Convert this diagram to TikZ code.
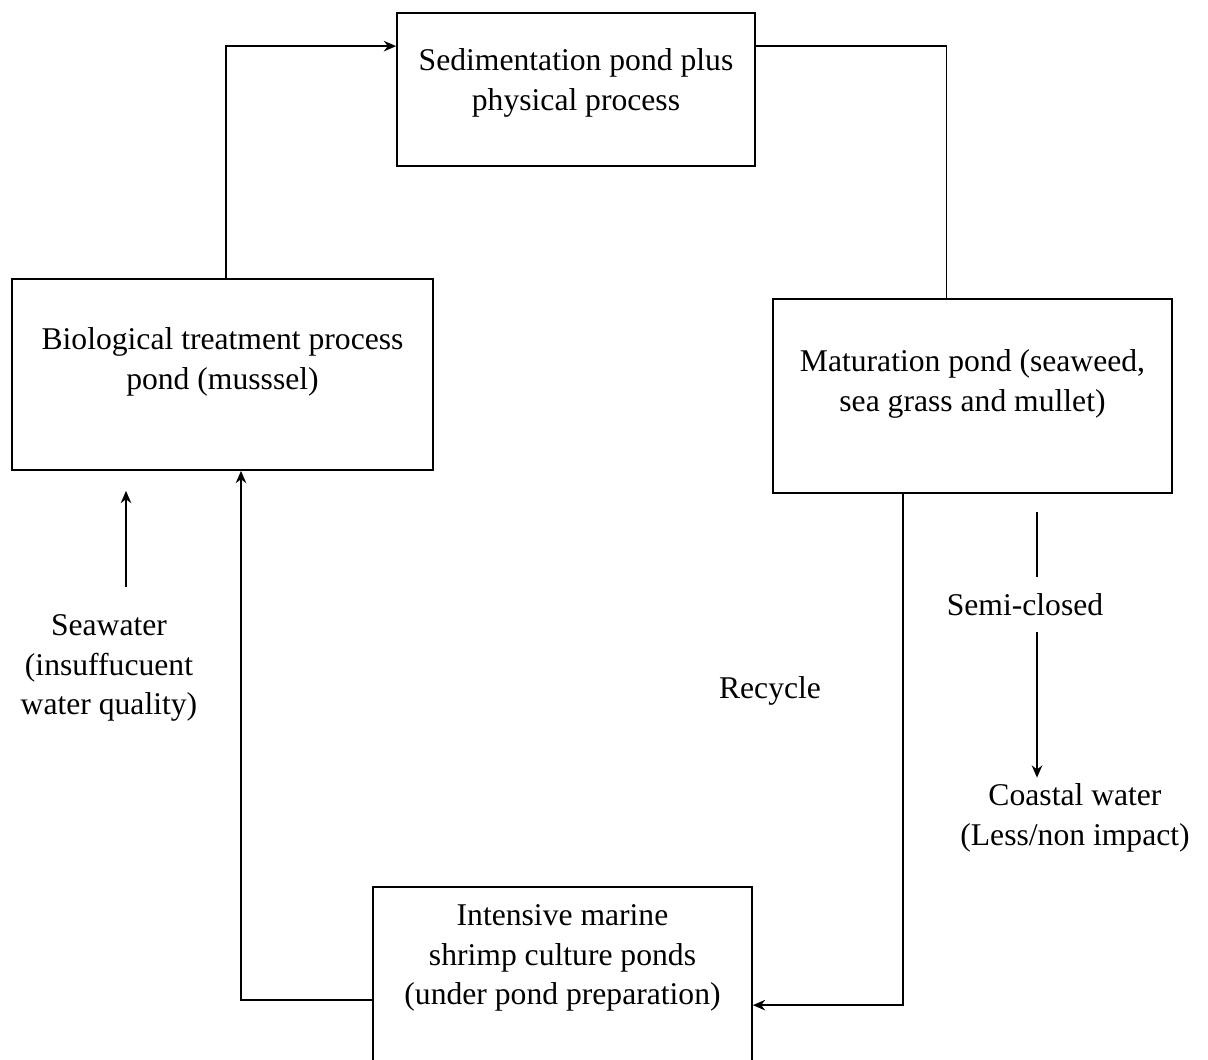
\documentclass[tikz,border=0pt]{standalone}
\usepackage{fontspec}
\setmainfont{Liberation Serif}
\usetikzlibrary{positioning,arrows.meta}

\tikzset{
  pond/.style={draw, line width=1pt, inner sep=0pt},
  words/.style={align=center, font=\fontsize{18}{22.5}\selectfont},
  flow/.style={line width=1pt}
}

\begin{document}
\begin{tikzpicture}[>={Stealth[length=7pt,width=6pt]}]
    \clip (0,0) rectangle (24.16,-21.18);

    % the four ponds
    \node[pond, minimum width=7.16cm, minimum height=3.06cm] (sed) at (11.52,-1.79) {};
    \node[pond, minimum width=8.42cm, minimum height=3.82cm] (bio) at (4.45,-7.49) {};
    \node[pond, minimum width=7.98cm, minimum height=3.88cm] (mat) at (19.45,-7.92) {};
    \node[pond, minimum width=7.58cm, minimum height=4.26cm] (shrimp) at (11.25,-19.87) {};

    \node[words] (sedtxt) at (11.52,-1.66) {Sedimentation pond plus\\physical process};
    \node[words] (biotxt) at (4.45,-7.24) {Biological treatment process\\pond (musssel)};
    \node[words] (mattxt) at (19.45,-7.68) {Maturation pond (seaweed,\\sea grass and mullet)};
    \node[words] (shrimptxt) at (11.25,-19.16) {Intensive marine\\shrimp culture ponds\\(under pond preparation)};

    % free labels
    \node[words] (seawater) at (2.18,-13.36) {Seawater\\(insuffucuent\\water quality)};
    \node[words] (recycle) at (15.4,-13.82) {Recycle};
    \node[words] (semi) at (20.5,-12.1) {Semi-closed};
    \node[words] (coast) at (21.5,-16.36) {Coastal water\\(Less/non impact)};

    \coordinate (seax) at (2.52,0);
    \coordinate (semix) at (20.74,0);

    % loop round the ponds
    \draw[flow, ->] ([xshift=0.07cm]bio.north) |- ([yshift=-0.68cm]sed.north west);
    \draw[flow] ([yshift=-0.68cm]sed.north east) -| ([xshift=-0.52cm]mat.north);
    \draw[flow, ->] ([xshift=-1.39cm]mat.south) |- ([yshift=-2.38cm]shrimp.north east);
    \draw[flow, ->] ([yshift=-2.28cm]shrimp.north west) -| ([xshift=0.37cm]bio.south);

    % seawater in, outflow to the coast
    \draw[flow, ->, shorten <=0.42cm, shorten >=0.4cm] (seawater.north -| seax) -- (bio.south -| seax);
    \draw[flow, shorten <=0.36cm, shorten >=0.22cm] (mat.south -| semix) -- (semi.north -| semix);
    \draw[flow, ->, shorten <=0.2cm] (semi.south -| semix) -- (coast.north -| semix);
\end{tikzpicture}
\end{document}
